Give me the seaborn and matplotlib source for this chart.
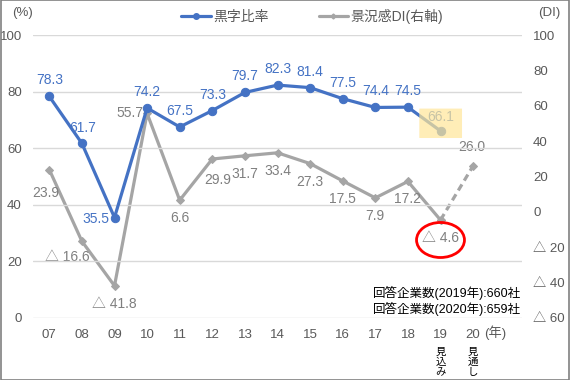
import matplotlib
matplotlib.use("Agg")
import matplotlib.pyplot as plt
import seaborn as sns
from matplotlib.patches import Ellipse, FancyBboxPatch, Rectangle
from matplotlib.lines import Line2D

# --- data ---
years = ["07", "08", "09", "10", "11", "12", "13", "14", "15", "16", "17", "18", "19", "20"]
profit_ratio = [78.3, 61.7, 35.5, 74.2, 67.5, 73.3, 79.7, 82.3, 81.4, 77.5, 74.4, 74.5, 66.1]
business_di = [23.9, -16.6, -41.8, 55.7, 6.6, 29.9, 31.7, 33.4, 27.3, 17.5, 7.9, 17.2, -4.6, 26.0]
left_ticks = [0, 20, 40, 60, 80, 100]
right_ticks = [-60, -40, -20, 0, 20, 40, 60, 80, 100]
notes = ["回答企業数(2019年):660社", "回答企業数(2020年):659社"]

BLUE = "#4472C4"
GRAY = "#A5A5A5"
LABEL_GRAY = "#7F7F7F"
TICK = "#595959"

sns.set_style("white")
plt.rcParams["font.family"] = ["Liberation Sans", "Noto Sans CJK JP", "DejaVu Sans"]


def fmt(v):
    return f"△ {abs(v):.1f}" if v < 0 else f"{v:.1f}"


fig = plt.figure(figsize=(5.7, 3.8), dpi=100)
ax = fig.add_axes([33 / 570, 1 - 318 / 380, (522 - 33) / 570, (318 - 35) / 380])
ax2 = ax.twinx()

# gray DI line (right axis), last segment dashed
n_act = len(business_di) - 1
sns.lineplot(x=list(range(n_act)), y=business_di[:n_act], ax=ax2, color=GRAY, lw=2.3,
             marker="D", markersize=4, markeredgecolor=GRAY)
sns.lineplot(x=[n_act - 1, n_act], y=business_di[n_act - 1:], ax=ax2, color=GRAY, lw=2.3,
             ls=(0, (2.2, 1.4)), marker="D", markersize=4, markeredgecolor=GRAY)

# blue line (left axis)
sns.lineplot(x=list(range(len(profit_ratio))), y=profit_ratio, ax=ax, color=BLUE, lw=2.3,
             marker="o", markersize=6, markeredgecolor=BLUE)

# bring left axis on top of the right one
ax.set_zorder(ax2.get_zorder() + 1)
ax.patch.set_visible(False)

ax.set_xlim(-0.5, 14.5)
ax.set_ylim(0, 100)
ax2.set_ylim(-60, 100)
ax.set_yticks(left_ticks)
ax.set_yticklabels([str(t) for t in left_ticks])
ax2.set_yticks(right_ticks)
ax2.set_yticklabels([f"△ {abs(t)}" if t < 0 else str(t) for t in right_ticks])
ax.set_xticks(range(len(years)))
ax.set_xticklabels(years)
ax.grid(axis="y", color="#D9D9D9", lw=1)
ax.grid(axis="x", visible=False)
ax2.grid(False)
for a in (ax, ax2):
    for s in a.spines.values():
        s.set_visible(False)
    a.tick_params(length=0, labelsize=9.5, labelcolor=TICK)
ax.tick_params(axis="y", pad=8)
ax2.tick_params(axis="y", pad=8)
ax.tick_params(axis="x", pad=8)
ax.set_xlabel("")
ax.set_ylabel("")
ax2.set_ylabel("")

# data labels
blue_off = {1: (1, 15), 2: (-19, -1), 12: (0, 14)}
for i, v in enumerate(profit_ratio):
    dx, dy = blue_off.get(i, (0, 16))
    ax.annotate(f"{v:.1f}", (i, v), xytext=(dx, dy), textcoords="offset pixels",
                ha="center", va="center", fontsize=10, color=BLUE)

gray_off = {0: (-4, -23), 1: (-15, -16), 3: (-17, 0), 5: (5, -21), 13: (-1, 19)}
for i, v in enumerate(business_di):
    dx, dy = gray_off.get(i, (0, -18))
    ax2.annotate(fmt(v), (i, v), xytext=(dx, dy), textcoords="offset pixels",
                 ha="center", va="center", fontsize=10, color=LABEL_GRAY, zorder=5)

# highlight box on the 2019 estimate (drawn over the blue line)
ax_top = fig.add_axes(ax.get_position(), sharex=ax, sharey=ax)
ax_top.set_axis_off()
ax_top.set_zorder(ax.get_zorder() + 1)
box = FancyBboxPatch((11.35, 63.6), 1.31, 10.4,
                     boxstyle="round,pad=0,rounding_size=0.15",
                     mutation_aspect=1 / 11.55, facecolor="#FFE699", alpha=0.7,
                     edgecolor="none")
ax_top.add_patch(box)

# red ellipse around DI 2019
ax2.add_patch(Ellipse((12, -15.9), 1.47, 19.8, facecolor="none", edgecolor="#FF0000",
                      lw=2, zorder=6, clip_on=False))

# axis unit labels
fig.text(12 / 570, 1 - 13 / 380, "(%)", fontsize=9.5, color=TICK, ha="left", va="center")
fig.text(560 / 570, 1 - 13 / 380, "(DI)", fontsize=9.5, color=TICK, ha="right", va="center")
fig.text(495 / 570, 1 - 333 / 380, "(年)", fontsize=9.5, color=TICK, ha="center", va="center")

# vertical notes under 19 / 20
for i, s in [(12, "見\n込\nみ"), (13, "見\n通\nし")]:
    ax.annotate(s, (i, 0), xytext=(0, -29), textcoords="offset pixels", ha="center",
                va="top", fontsize=7.5, color="black", linespacing=1.0,
                annotation_clip=False)

# respondents notes
fig.text(521 / 570, 1 - 293 / 380, notes[0], fontsize=9, color="black", ha="right", va="center")
fig.text(521 / 570, 1 - 309 / 380, notes[1], fontsize=9, color="black", ha="right", va="center")

# legend
handles = [
    Line2D([0], [0], color=BLUE, lw=2.3, marker="o", markersize=4, label="黒字比率"),
    Line2D([0], [0], color=GRAY, lw=2.3, marker="D", markersize=2.5, label="景況感DI(右軸)"),
]
fig.legend(handles=handles, loc="center", bbox_to_anchor=(0.548, 1 - 16 / 380), ncol=2,
           frameon=False, fontsize=10, handlelength=2.1, handletextpad=0.2,
           columnspacing=3.6, labelcolor=TICK)

# outer frame
fig.patches.append(Rectangle((0.001, 0.001), 0.998, 0.998, transform=fig.transFigure,
                             fill=False, edgecolor="#808080", lw=1.2))

fig.savefig("out.png", dpi=100)
